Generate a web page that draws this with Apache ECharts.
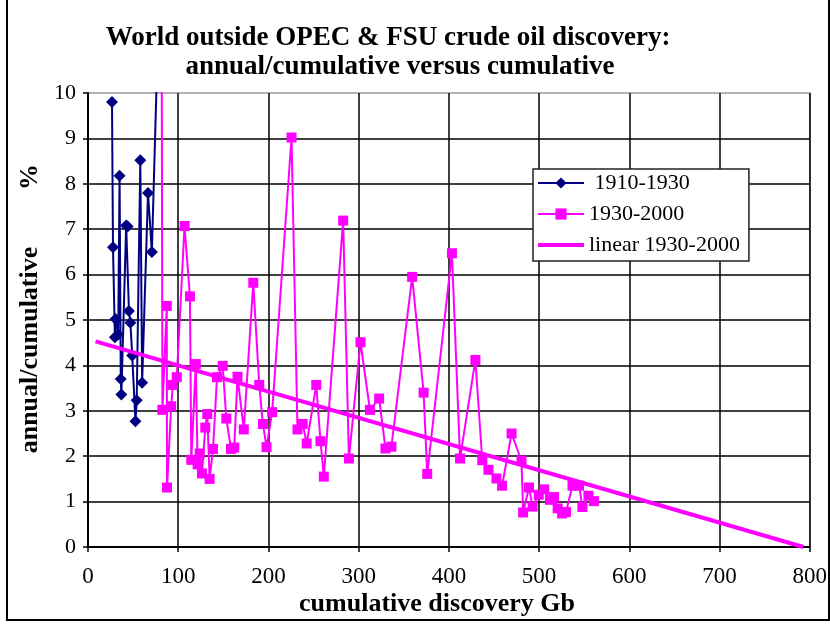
<!DOCTYPE html>
<html>
<head>
<meta charset="utf-8">
<script src="https://cdn.jsdelivr.net/npm/echarts@6/dist/echarts.min.js"></script>
<style>html,body{margin:0;padding:0;background:#fff}#c{width:830px;height:624px}</style>
</head>
<body>
<div id="c"></div>
<script>
// 1910-1930 series: cumulative discovery (Gb) and annual/cumulative (%)
var blueX = [26.6, 27.7, 29.8, 30.4, 33.5, 35.0, 36.3, 37.0, 42.3, 43.9, 45.4, 47.0, 49.0, 52.6, 54.0, 58.0, 60.0, 66.5, 70.8, 81.4];
var blueY = [9.80, 6.60, 4.62, 5.02, 4.68, 8.18, 3.70, 3.36, 7.08, 7.06, 5.20, 4.94, 4.22, 2.77, 3.23, 8.52, 3.62, 7.80, 6.50, 14.0];
// 1930-2000 series
var pinkX = [81.4, 82.5, 87.3, 87.6, 92.2, 94.0, 98.4, 107.0, 113.0, 114.5, 119.5, 121.5, 123.8, 126.3, 130.0, 132.2, 134.8, 138.6, 143.0, 149.3,
             153.3, 158.5, 162.1, 165.7, 172.7, 183.2, 189.8, 193.9, 197.9, 204.1, 225.6, 232.2, 238.0, 242.4, 253.0, 257.7, 261.4, 282.8, 289.2, 302.0,
             312.5, 322.7, 329.7, 336.3, 359.3, 372.0, 376.0, 403.4, 412.4, 429.4, 437.0, 443.9, 452.7, 459.0, 469.5, 480.5, 482.3, 488.8, 492.8, 499.6,
             505.7, 512.0, 516.6, 520.6, 525.5, 529.8, 537.0, 544.4, 548.0, 554.7, 560.8];
var pinkY = [14.0, 3.02, 5.31, 1.31, 3.10, 3.57, 3.74, 7.07, 5.52, 1.92, 4.03, 1.82, 2.06, 1.62, 2.63, 2.93, 1.50, 2.16, 3.74, 3.99,
             2.83, 2.16, 2.19, 3.75, 2.59, 5.82, 3.57, 2.71, 2.20, 2.97, 9.02, 2.59, 2.71, 2.28, 3.57, 2.33, 1.55, 7.19, 1.95, 4.51,
             3.02, 3.27, 2.17, 2.21, 5.95, 3.40, 1.61, 6.47, 1.95, 4.12, 1.91, 1.70, 1.51, 1.35, 2.50, 1.90, 0.76, 1.31, 0.89, 1.15,
             1.27, 1.04, 1.10, 0.85, 0.74, 0.77, 1.35, 1.35, 0.88, 1.13, 1.01];
// linear trend 1930-2000 (end points)
var trendX = [8.4, 793];
var trendY = [4.53, 0];
var xTicks = {min: 0, max: 800, interval: 100};
var yTicks = {min: 0, max: 10, interval: 1};

function pairs(xs, ys) { return xs.map(function (x, i) { return [x, ys[i]]; }); }

var FONT = '"Liberation Serif", "Times New Roman", serif';
var chart = echarts.init(document.getElementById('c'), null, {renderer: 'canvas'});
chart.setOption({
  animation: false,
  backgroundColor: '#fff',
  grid: {left: 88, top: 93, right: 12, bottom: 77, show: true, borderColor: '#999', borderWidth: 1.5, containLabel: false},
  xAxis: {
    type: 'value', min: xTicks.min, max: xTicks.max, interval: xTicks.interval,
    axisLine: {show: true, onZero: false, lineStyle: {color: '#000', width: 2}},
    axisTick: {show: true, inside: false, length: 5, lineStyle: {color: '#000', width: 1.5}},
    axisLabel: {color: '#000', fontFamily: FONT, fontSize: 23, margin: 18, alignMaxLabel: 'center', alignMinLabel: 'center', hideOverlap: false},
    splitLine: {show: true, lineStyle: {color: '#000', width: 1.5}}
  },
  yAxis: {
    type: 'value', min: yTicks.min, max: yTicks.max, interval: yTicks.interval,
    axisLine: {show: true, onZero: false, lineStyle: {color: '#000', width: 2}},
    axisTick: {show: true, inside: false, length: 5, lineStyle: {color: '#000', width: 1.5}},
    axisLabel: {color: '#000', fontFamily: FONT, fontSize: 22, margin: 12},
    splitLine: {show: true, showMaxLine: false, lineStyle: {color: '#000', width: 1.5}}
  },
  legend: {
    orient: 'vertical', left: 533, top: 169,
    padding: [3, 9, 5, 4], itemGap: 9, itemWidth: 46, itemHeight: 14,
    backgroundColor: '#fff', borderColor: '#222', borderWidth: 1.5, borderRadius: 0,
    textStyle: {color: '#000', fontFamily: FONT, fontSize: 22, padding: [0, 0, 0, 0]},
    data: [' 1910-1930', '1930-2000', {name: 'linear 1930-2000', icon: 'path://M0,0L46,0L46,4L0,4Z'}]
  },
  series: [
    {
      name: ' 1910-1930', type: 'line', data: pairs(blueX, blueY), clip: true,
      symbol: 'diamond', symbolSize: 12, showAllSymbol: true,
      lineStyle: {color: '#000080', width: 2}, itemStyle: {color: '#000080'}, z: 3
    },
    {
      name: '1930-2000', type: 'line', data: pairs(pinkX, pinkY), clip: true,
      symbol: 'rect', symbolSize: 10, showAllSymbol: true,
      lineStyle: {color: '#FF00FF', width: 2}, itemStyle: {color: '#FF00FF'}, z: 2
    },
    {
      name: 'linear 1930-2000', type: 'line', data: pairs(trendX, trendY), clip: true,
      symbol: 'none', lineStyle: {color: '#FF00FF', width: 4}, itemStyle: {color: '#FF00FF'}, z: 4
    }
  ],
  graphic: [
    {type: 'rect', silent: true, z: 100, shape: {x: 7, y: -5, width: 822, height: 625},
     style: {fill: 'none', stroke: '#000', lineWidth: 2}},
    {type: 'text', x: 388, y: 38, z: 100, style: {text: 'World outside OPEC & FSU crude oil discovery:', font: 'bold 27px ' + FONT, fill: '#000', textAlign: 'center', textVerticalAlign: 'middle'}},
    {type: 'text', x: 400, y: 67, z: 100, style: {text: 'annual/cumulative versus cumulative', font: 'bold 27px ' + FONT, fill: '#000', textAlign: 'center', textVerticalAlign: 'middle'}},
    {type: 'text', x: 437, y: 604, z: 100, style: {text: 'cumulative discovery Gb', font: 'bold 26px ' + FONT, fill: '#000', textAlign: 'center', textVerticalAlign: 'middle'}},
    {type: 'text', x: 30, y: 350, rotation: Math.PI / 2, z: 100, style: {text: 'annual/cumulative', font: 'bold 26px ' + FONT, fill: '#000', textAlign: 'center', textVerticalAlign: 'middle'}},
    {type: 'text', x: 30, y: 177, rotation: Math.PI / 2, z: 100, style: {text: '%', font: 'bold 26px ' + FONT, fill: '#000', textAlign: 'center', textVerticalAlign: 'middle'}}
  ]
});
</script>
</body>
</html>
